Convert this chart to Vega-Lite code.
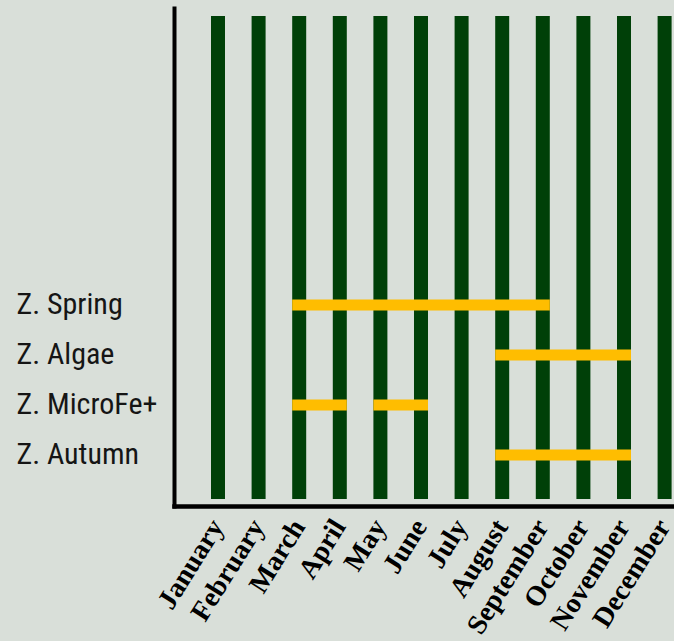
{
  "$schema": "https://vega.github.io/schema/vega-lite/v6.json",
  "width": 500,
  "height": 498,
  "autosize": "none",
  "padding": {"left": 174, "top": 8, "right": 0, "bottom": 135},
  "background": "#d9dfd9",
  "config": {"view": {"stroke": null}},
  "datasets": {
    "months": [
      {"month": "January"}, {"month": "February"}, {"month": "March"}, {"month": "April"},
      {"month": "May"}, {"month": "June"}, {"month": "July"}, {"month": "August"},
      {"month": "September"}, {"month": "October"}, {"month": "November"}, {"month": "December"}
    ],
    "periods": [
      {"product": "Z. Spring", "start": "March", "end": "September"},
      {"product": "Z. Algae", "start": "August", "end": "November"},
      {"product": "Z. MicroFe+", "start": "March", "end": "April"},
      {"product": "Z. MicroFe+", "start": "May", "end": "June"},
      {"product": "Z. Autumn", "start": "August", "end": "November"}
    ]
  },
  "resolve": {"scale": {"y": "independent"}, "axis": {"y": "independent"}},
  "layer": [
    {
      "data": {"name": "months"},
      "mark": {"type": "bar", "width": 14, "color": "#004008"},
      "encoding": {
        "x": {
          "field": "month",
          "type": "ordinal",
          "scale": {
            "domain": ["January", "February", "March", "April", "May", "June", "July", "August", "September", "October", "November", "December"],
            "range": [0, 534.6],
            "paddingInner": 0,
            "paddingOuter": 0.5837
          },
          "axis": {
            "title": null,
            "domainColor": "#000000",
            "domainWidth": 4.5,
            "domainCap": "square",
            "ticks": false,
            "labelAngle": -58,
            "labelFont": "Liberation Serif",
            "labelFontWeight": "bold",
            "labelFontSize": 28,
            "labelColor": "#000000",
            "labelPadding": 16,
            "labelOverlap": false,
            "labelBound": false,
            "labelFlush": false
          }
        },
        "y": {
          "datum": "all months",
          "type": "nominal",
          "scale": {"paddingInner": 0, "paddingOuter": 0.0155, "align": 0.533},
          "axis": {
            "orient": "left",
            "title": null,
            "labels": false,
            "ticks": false,
            "domainColor": "#000000",
            "domainWidth": 4,
            "domainCap": "square"
          }
        }
      }
    },
    {
      "data": {"name": "periods"},
      "mark": {"type": "rule", "strokeWidth": 11, "color": "#ffbd00", "xOffset": -7, "x2Offset": 7},
      "encoding": {
        "x": {"field": "start", "type": "ordinal"},
        "x2": {"field": "end"},
        "y": {
          "field": "product",
          "type": "nominal",
          "scale": {
            "domain": ["Z. Spring", "Z. Algae", "Z. MicroFe+", "Z. Autumn"],
            "range": [272, 472],
            "paddingInner": 0,
            "paddingOuter": 0
          },
          "axis": {
            "orient": "left",
            "title": null,
            "domain": false,
            "ticks": false,
            "labelAlign": "left",
            "labelPadding": 158,
            "labelFont": "Liberation Sans Narrow, Roboto Condensed, DejaVu Sans Condensed, sans-serif",
            "labelFontSize": 30,
            "labelColor": "#151515",
            "labelLimit": 300
          }
        }
      }
    }
  ]
}
